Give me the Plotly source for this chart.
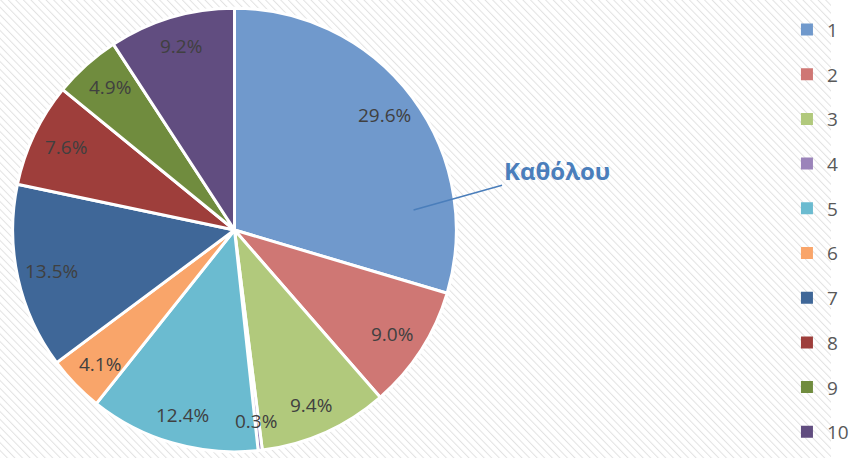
import base64
import math
import plotly.graph_objects as go

labels = ["1", "2", "3", "4", "5", "6", "7", "8", "9", "10"]
values = [29.6, 9.0, 9.4, 0.3, 12.4, 4.1, 13.5, 7.6, 4.9, 9.2]
colors = ["#7099cc", "#cf7774", "#b1c97c", "#9b84ba", "#6bbbd0",
          "#f9a56a", "#3f6798", "#9e3e3b", "#708c3e", "#614d80"]
annot_text = "Καθόλου"

W, H = 854, 458
svg = f'''<svg xmlns="http://www.w3.org/2000/svg" width="{W}" height="{H}">
<defs><pattern id="p" patternUnits="userSpaceOnUse" width="5.5" height="5.5" patternTransform="rotate(-45)">
<rect width="5.5" height="5.5" fill="#ffffff"/>
<line x1="0" y1="0" x2="0" y2="5.5" stroke="#e2e2e2" stroke-width="2"/></pattern></defs>
<rect width="{W}" height="{H}" fill="url(#p)"/></svg>'''
bg = "data:image/svg+xml;base64," + base64.b64encode(svg.encode()).decode()

M_T, M_B = 2, 0
ph = H - M_T - M_B
cx_px = 241
R = ph / 2 * 0.98          # plotly shrinks the pie slightly inside its domain
cy_px = M_T + ph / 2
dom_half = ph / 2
dom_x = [(cx_px - dom_half) / W, (cx_px + dom_half) / W]

fig = go.Figure()
fig.add_trace(go.Pie(
    labels=labels, values=values, sort=False, direction="clockwise", rotation=0,
    marker=dict(colors=colors, line=dict(color="white", width=3)),
    textinfo="none",
    domain=dict(x=dom_x, y=[0, 1]),
    showlegend=False, hoverinfo="label+percent",
))

total = sum(values)
cum = 0.0
for v in values:
    mid = (cum + v / 2) / total * 2 * math.pi
    cum += v
    r = 0.86 * R
    px = cx_px + r * math.sin(mid)
    py = cy_px - r * math.cos(mid)
    fig.add_annotation(
        x=px / W, y=(H - M_B - py) / ph, xref="paper", yref="paper",
        xanchor="center", yanchor="middle",
        text=f"{v:.1f}%", showarrow=False,
        font=dict(family="Open Sans", size=19, color="#404040"),
    )

for lab, col in zip(labels, colors):
    fig.add_trace(go.Scatter(
        x=[None], y=[None], mode="markers", name=lab, legendgroup=lab,
        marker=dict(symbol="square", size=9, color=col),
    ))

tip_x, tip_y = 425, 210
fig.add_annotation(
    x=tip_x / W, y=(H - M_B - tip_y) / ph, xref="paper", yref="paper",
    text=f"<b>{annot_text}</b>", showarrow=True, arrowhead=0,
    arrowwidth=1.5, arrowcolor="#4a7ebb", ax=143, ay=-40,
    font=dict(family="Open Sans", size=24, color="#4a7ebb"),
)

fig.update_layout(
    width=W, height=H, margin=dict(l=0, r=0, t=M_T, b=M_B),
    paper_bgcolor="white", plot_bgcolor="rgba(0,0,0,0)",
    xaxis=dict(visible=False), yaxis=dict(visible=False),
    legend=dict(x=0.947, y=0.981, xanchor="left", yanchor="top",
                font=dict(family="Open Sans", size=19, color="#595959"),
                tracegroupgap=17, itemsizing="constant", itemwidth=30,
                bgcolor="rgba(0,0,0,0)"),
    images=[dict(source=bg, xref="paper", yref="paper", x=0, y=1 + M_T / ph,
                 sizex=1, sizey=H / ph, sizing="stretch", layer="below",
                 xanchor="left", yanchor="top")],
)
fig.write_html("out.html", config={"displayModeBar": False},
               post_script="document.body.style.margin='0';document.body.style.padding='0';")
